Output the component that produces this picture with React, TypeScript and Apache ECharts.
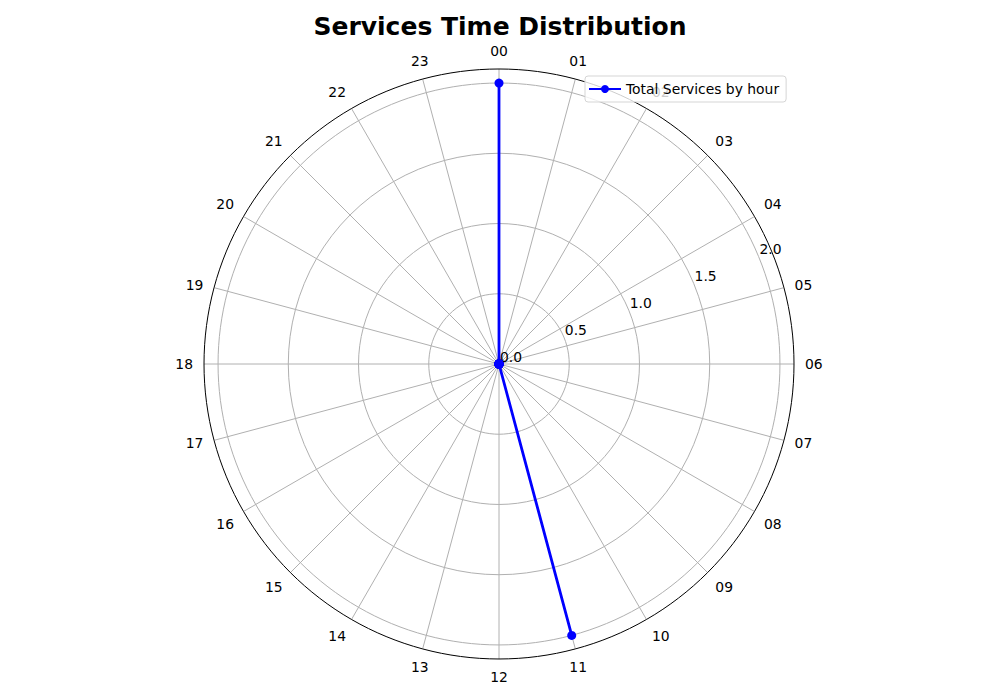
import React, { useEffect, useRef } from "react";
import * as echarts from "echarts";

const hours = [
  "00", "01", "02", "03", "04", "05", "06", "07", "08", "09", "10", "11",
  "12", "13", "14", "15", "16", "17", "18", "19", "20", "21", "22", "23",
];
const services = [2, 0, 0, 0, 0, 0, 0, 0, 0, 0, 0, 2, 0, 0, 0, 0, 0, 0, 0, 0, 0, 0, 0, 0];
const radiusMax = 2.1;
const gridMax = 2.0;
const radiusInterval = 0.5;
const seriesName = "Total Services by hour";
const titleText = "Services Time Distribution";

const FONT = "DejaVu Sans";

export default function App() {
  const ref = useRef<HTMLDivElement>(null);
  useEffect(() => {
    if (!ref.current) return;
    const chart = echarts.init(ref.current, null, { renderer: "svg" });
    const center = ["499px", "364px"] as any;
    const radius = 295;
    const gridRadius = (radius * gridMax) / radiusMax;
    chart.setOption({
      animation: false,
      backgroundColor: "#ffffff",
      textStyle: { fontFamily: FONT },
      title: {
        text: titleText,
        left: "center",
        top: 9,
        textStyle: { fontFamily: FONT, fontSize: 25, fontWeight: "bold", color: "#000" },
      },
      legend: {
        data: [seriesName],
        left: 585,
        top: 76,
        padding: [6, 7, 6, 3],
        itemWidth: 32,
        itemHeight: 10,
        itemGap: 8,
        borderColor: "#d5d5d5",
        borderWidth: 1,
        borderRadius: 3,
        backgroundColor: "rgba(255,255,255,0.8)",
        textStyle: { fontFamily: FONT, fontSize: 13.9, color: "#000" },
        z: 20,
      },
      polar: [
        { center, radius },
        { center, radius: gridRadius },
      ],
      angleAxis: [
        {
          polarIndex: 0,
          type: "value",
          min: 0,
          max: hours.length,
          interval: 1,
          startAngle: 90,
          clockwise: true,
          axisLine: { show: true, lineStyle: { color: "#000", width: 1 } },
          axisTick: { show: false },
          splitLine: { show: true, lineStyle: { color: "#b0b0b0", width: 1 } },
          axisLabel: {
            show: true,
            margin: 11,
            color: "#000",
            fontSize: 13.9,
            fontFamily: FONT,
            formatter: (v: number) => (v >= hours.length ? "" : hours[Math.round(v)]),
          },
          z: 1,
        },
        {
          polarIndex: 1,
          type: "value",
          min: 0,
          max: 360,
          startAngle: 22.5,
          axisLine: { show: false },
          axisTick: { show: false },
          splitLine: { show: false },
          axisLabel: { show: false },
          z: 1,
        },
      ],
      radiusAxis: [
        {
          polarIndex: 0,
          type: "value",
          min: 0,
          max: radiusMax,
          axisLine: { show: false },
          axisTick: { show: false },
          axisLabel: { show: false },
          splitLine: { show: false },
        },
        {
          polarIndex: 1,
          type: "value",
          min: 0,
          max: gridMax,
          interval: radiusInterval,
          axisLine: { show: false },
          axisTick: { show: false },
          splitLine: { show: true, lineStyle: { color: "#b0b0b0", width: 1 } },
          axisLabel: {
            show: true,
            color: "#000",
            fontSize: 13.9,
            fontFamily: FONT,
            align: "left",
            padding: [0, 0, 0, 4],
            formatter: (v: number) => v.toFixed(1),
          },
          z: 1,
        },
      ],
      series: [
        {
          name: seriesName,
          type: "line",
          coordinateSystem: "polar",
          polarIndex: 0,
          clip: false,
          data: hours.map((h, i) => [services[i], i]),
          symbol: "circle",
          symbolSize: 9,
          showAllSymbol: true,
          lineStyle: { color: "#0000ff", width: 2.8 },
          itemStyle: { color: "#0000ff" },
          z: 10,
        },
      ],
    });
    return () => chart.dispose();
  }, []);
  return (
    <div
      ref={ref}
      style={{ position: "fixed", left: 0, top: 0, width: 1000, height: 700 }}
    />
  );
}
